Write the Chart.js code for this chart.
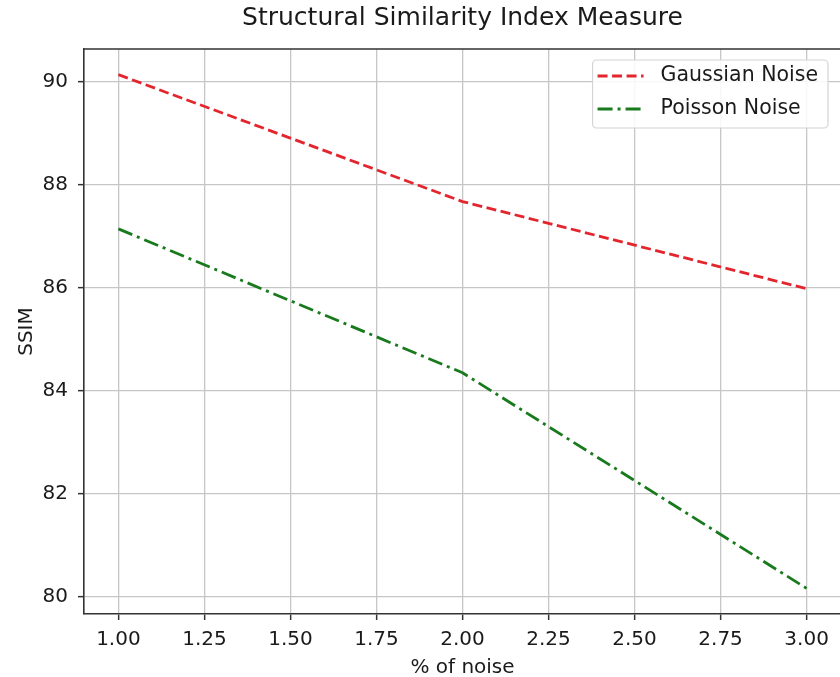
<!DOCTYPE html>
<html lang="en">
<head>
<meta charset="UTF-8">
<title>Structural Similarity Index Measure</title>
<script src="https://cdn.jsdelivr.net/npm/chart.js"></script>
<style>
    body {
        margin: 0;
        padding: 0;
        background: #fff;
        overflow: hidden;
    }
    .wrap {
        width: 860px;
        height: 677px;
    }
</style>
</head>
<body>
<div class="wrap"><canvas id="ssim" width="860" height="677"></canvas></div>
<script>
    // values
    const noiseLevels = [1.0, 2.0, 3.0];
    const gaussianSsim = [90.13, 87.67, 85.98];
    const poissonSsim = [87.14, 84.35, 80.17];
    const xTickValues = [1.00, 1.25, 1.50, 1.75, 2.00, 2.25, 2.50, 2.75, 3.00];
    const yTickValues = [80, 82, 84, 86, 88, 90];

    const FONT = '"DejaVu Sans", sans-serif';
    const TEXT = '#1a1a1a';

    // matplotlib-like 5% margins
    const allY = gaussianSsim.concat(poissonSsim);
    const yLo = Math.min(...allY), yHi = Math.max(...allY);
    const yPad = (yHi - yLo) * 0.05;
    const xLo = Math.min(...noiseLevels), xHi = Math.max(...noiseLevels);
    const xPad = (xHi - xLo) * 0.05;

    const toPoints = ys => noiseLevels.map((x, i) => ({ x: x, y: ys[i] }));

    // top/right spines plus a legend box inside the plot, upper right
    const frameAndLegend = {
        id: 'frameAndLegend',
        afterDraw(chart) {
            const { ctx, chartArea } = chart;
            ctx.save();
            ctx.strokeStyle = '#333';
            ctx.lineWidth = 1.6;
            ctx.beginPath();
            ctx.moveTo(chartArea.left, chartArea.top);
            ctx.lineTo(chartArea.right, chartArea.top);
            ctx.lineTo(chartArea.right, chartArea.bottom);
            ctx.stroke();

            ctx.font = '20.5px ' + FONT;
            const sets = chart.data.datasets;
            const textW = Math.max(...sets.map(d => ctx.measureText(d.label).width));
            const w = 68 + textW + 10, h = 68;
            const x0 = chartArea.right - 13 - w, y0 = chartArea.top + 11;

            ctx.fillStyle = 'rgba(255,255,255,0.85)';
            ctx.strokeStyle = '#d4d4d4';
            ctx.lineWidth = 1.2;
            ctx.beginPath();
            ctx.roundRect(x0, y0, w, h, 4);
            ctx.fill();
            ctx.stroke();

            sets.forEach((d, i) => {
                const cy = y0 + 16 + i * 33;
                ctx.setLineDash(d.borderDash);
                ctx.strokeStyle = d.borderColor;
                ctx.lineWidth = d.borderWidth;
                ctx.beginPath();
                ctx.moveTo(x0 + 5, cy);
                ctx.lineTo(x0 + 51, cy);
                ctx.stroke();
                ctx.setLineDash([]);
                ctx.fillStyle = TEXT;
                ctx.textBaseline = 'middle';
                ctx.fillText(d.label, x0 + 68, cy);
            });
            ctx.restore();
        }
    };

    new Chart(document.getElementById('ssim').getContext('2d'), {
        type: 'line',
        data: {
            datasets: [{
                label: 'Gaussian Noise',
                data: toPoints(gaussianSsim),
                borderColor: '#e3262d',
                borderWidth: 2.8,
                borderDash: [10, 4.5],
                pointRadius: 0,
                tension: 0,
                fill: false
            }, {
                label: 'Poisson Noise',
                data: toPoints(poissonSsim),
                borderColor: '#197a1d',
                borderWidth: 2.8,
                borderDash: [15, 5, 3, 5],
                pointRadius: 0,
                tension: 0,
                fill: false
            }]
        },
        options: {
            responsive: false,
            animation: false,
            layout: { padding: { left: 0, right: 19, top: 0, bottom: 0 } },
            plugins: {
                legend: { display: false },
                tooltip: { enabled: false },
                title: {
                    display: true,
                    fullSize: false,
                    text: 'Structural Similarity Index Measure',
                    color: TEXT,
                    font: { family: FONT, size: 25, weight: 'normal', lineHeight: 1.16 },
                    padding: { top: 4, bottom: 16 }
                }
            },
            scales: {
                x: {
                    type: 'linear',
                    min: xLo - xPad,
                    max: xHi + xPad,
                    afterBuildTicks: s => { s.ticks = xTickValues.map(v => ({ value: v })); },
                    afterFit: s => { s.height = 63; },
                    ticks: {
                        callback: v => v.toFixed(2),
                        color: TEXT,
                        font: { family: FONT, size: 20 },
                        padding: 8,
                        maxRotation: 0,
                        autoSkip: false
                    },
                    grid: { color: '#c6c6c6', lineWidth: 1.3, tickLength: 6, tickColor: '#333', tickWidth: 1.5 },
                    border: { color: '#333', width: 1.6 },
                    title: {
                        display: true,
                        text: '% of noise',
                        color: TEXT,
                        font: { family: FONT, size: 20, lineHeight: 0.9 },
                        padding: { top: 0, bottom: 0 }
                    }
                },
                y: {
                    type: 'linear',
                    min: yLo - yPad,
                    max: yHi + yPad,
                    afterBuildTicks: s => { s.ticks = yTickValues.map(v => ({ value: v })); },
                    afterFit: s => { s.width = 84; },
                    ticks: {
                        callback: v => String(v),
                        color: TEXT,
                        font: { family: FONT, size: 20 },
                        padding: 10,
                        autoSkip: false
                    },
                    grid: { color: '#c6c6c6', lineWidth: 1.3, tickLength: 6, tickColor: '#333', tickWidth: 1.5 },
                    border: { color: '#333', width: 1.6 },
                    title: {
                        display: true,
                        text: 'SSIM',
                        color: TEXT,
                        font: { family: FONT, size: 20 },
                        padding: { top: 15, bottom: 0 }
                    }
                }
            }
        },
        plugins: [frameAndLegend]
    });
</script>
</body>
</html>
